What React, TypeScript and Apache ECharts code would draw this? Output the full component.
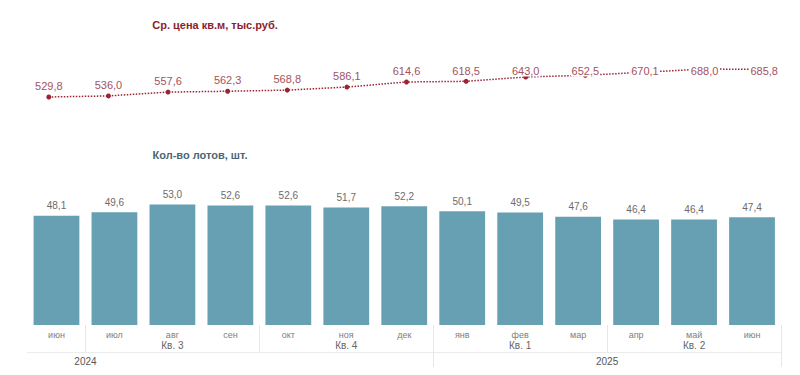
import React, { useEffect, useRef } from "react";
import * as echarts from "echarts";

const months = ["июн", "июл", "авг", "сен", "окт", "ноя", "дек", "янв", "фев", "мар", "апр", "май", "июн"];
const avgPrice = [529.8, 536.0, 557.6, 562.3, 568.8, 586.1, 614.6, 618.5, 643.0, 652.5, 670.1, 688.0, 685.8];
const lotsCount = [48.1, 49.6, 53.0, 52.6, 52.6, 51.7, 52.2, 50.1, 49.5, 47.6, 46.4, 46.4, 47.4];

const quarterLabels = ["Кв. 3", "Кв. 4", "Кв. 1", "Кв. 2"];
const quarterCenters = [2, 5, 8, 11];
const quarterBounds = [0.5, 3.5, 6.5, 9.5, 12.5];
const yearLabels = ["2024", "2025"];
const yearCenters = [0.5, 9.5];
const yearBounds = [6.5, 12.5];

const priceTitle = "Ср. цена кв.м, тыс.руб.";
const lotsTitle = "Кол-во лотов, шт.";

const fmt = (v: number) => v.toFixed(1).replace(".", ",");
const FONT = "'Liberation Sans', Arial, sans-serif";

export default function App() {
  const ref = useRef<HTMLDivElement>(null);
  useEffect(() => {
    document.body.style.margin = "0";
    if (!ref.current) return;
    const chart = echarts.init(ref.current, null, { renderer: "svg" });
    chart.setOption({
      animation: false,
      backgroundColor: "#ffffff",
      textStyle: { fontFamily: FONT },
      title: [
        {
          text: priceTitle,
          left: 210,
          top: 14,
          textAlign: "center",
          textStyle: { fontSize: 11, fontWeight: "bold", color: "#8c1d2e", fontFamily: FONT },
        },
        {
          text: lotsTitle,
          left: 195,
          top: 144,
          textAlign: "center",
          textStyle: { fontSize: 11, fontWeight: "bold", color: "#4b6673", fontFamily: FONT },
        },
      ],
      grid: [
        { left: 19, right: 6, top: 66, height: 40 },
        { left: 27.5, right: 19, top: 150, bottom: 50 },
      ],
      xAxis: [
        { type: "category", gridIndex: 0, data: months, show: false },
        {
          type: "category",
          gridIndex: 1,
          data: months,
          axisLine: { show: false },
          axisTick: { show: false },
          axisLabel: { interval: 0, margin: 5, fontSize: 9, color: "#7e7e7e", fontFamily: FONT },
        },
        {
          type: "value",
          gridIndex: 1,
          min: -0.5,
          max: 12.5,
          position: "bottom",
          splitLine: { show: false },
          axisLine: { show: false },
          axisTick: {
            show: true,
            customValues: quarterBounds,
            length: 27,
            lineStyle: { color: "#e6e6e6", width: 1 },
          },
          axisLabel: {
            customValues: quarterCenters,
            margin: 15,
            fontSize: 10,
            color: "#666666",
            fontFamily: FONT,
            formatter: (v: number) => quarterLabels[quarterCenters.indexOf(v)] ?? "",
          },
        },
        {
          type: "value",
          gridIndex: 1,
          min: -0.5,
          max: 12.5,
          position: "bottom",
          offset: 27,
          splitLine: { show: false },
          axisLine: { show: true, lineStyle: { color: "#ececec", width: 1 } },
          axisTick: {
            show: true,
            customValues: yearBounds,
            length: 15,
            lineStyle: { color: "#e6e6e6", width: 1 },
          },
          axisLabel: {
            customValues: yearCenters,
            margin: 4,
            fontSize: 10,
            color: "#555555",
            fontFamily: FONT,
            formatter: (v: number) => yearLabels[yearCenters.indexOf(v)] ?? "",
          },
        },
      ],
      yAxis: [
        { type: "value", gridIndex: 0, min: 479, max: 705, show: false },
        { type: "value", gridIndex: 1, min: 0, max: 77, show: false },
      ],
      series: [
        {
          type: "line",
          xAxisIndex: 0,
          yAxisIndex: 0,
          data: avgPrice,
          symbol: "circle",
          symbolSize: 5,
          itemStyle: { color: "#9b2335" },
          lineStyle: { color: "#9b2335", width: 1.5, type: "dotted" },
          label: {
            show: true,
            position: "top",
            distance: 3,
            fontSize: 11,
            color: "#a3535e",
            fontFamily: FONT,
            backgroundColor: "#ffffff",
            padding: [0, 1],
            formatter: (p: any) => fmt(p.value),
          },
          labelLayout: (p: any) => ({ dy: Math.max(0, 65.5 - p.labelRect.y) }),
        },
        {
          type: "bar",
          xAxisIndex: 1,
          yAxisIndex: 1,
          data: lotsCount,
          barCategoryGap: "21%",
          itemStyle: { color: "#67a0b3" },
          label: {
            show: true,
            position: "top",
            distance: 5,
            fontSize: 10,
            color: "#6b6b6b",
            fontFamily: FONT,
            formatter: (p: any) => fmt(p.value),
          },
        },
      ],
    });
    return () => chart.dispose();
  }, []);
  return <div ref={ref} style={{ width: 800, height: 375 }} />;
}
